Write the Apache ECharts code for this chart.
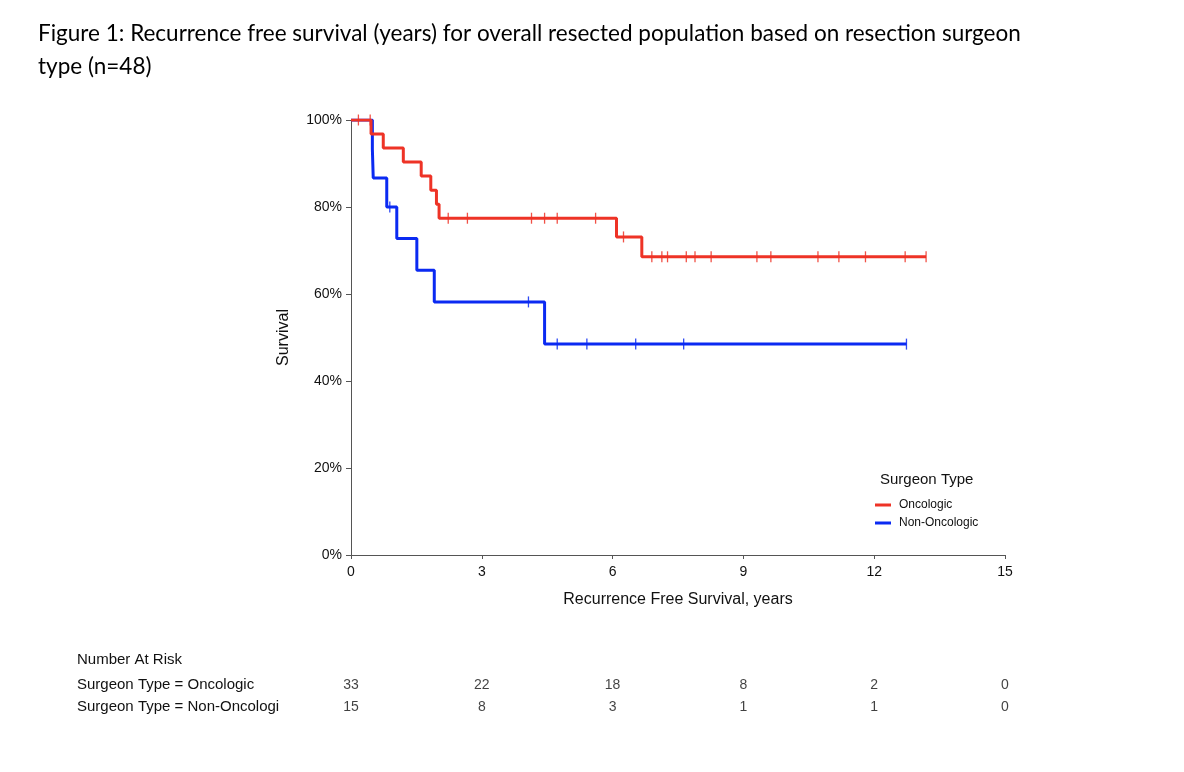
<!DOCTYPE html>
<html><head><meta charset="utf-8">
<script src="https://cdn.jsdelivr.net/npm/echarts@6/dist/echarts.min.js"></script>
<style>html,body{margin:0;padding:0;background:#fff}#c{width:1184px;height:772px}</style>
</head><body><div id="c"></div>
<script>
// ---- data ----
const seriesNames = ['Oncologic', 'Non-Oncologic'];
const oncoCurve = [[0,100],[0.46,96.77],[0.74,93.55],[1.2,90.32],[1.61,87.10],[1.83,83.87],[1.96,80.65],[2.02,77.42],[6.09,73.12],[6.67,68.55],[13.19,68.55]];
const oncoCensor = [0.17,0.44,2.23,2.67,4.14,4.44,4.73,5.61,6.25,6.90,7.13,7.26,7.69,7.89,8.26,9.31,9.63,10.71,11.19,11.80,12.71,13.19];
const nonCurve = [[0,100],[0.49,93.33],[0.51,86.67],[0.82,80.0],[1.05,72.73],[1.51,65.45],[1.91,58.18],[4.44,48.48],[12.74,48.48]];
const nonCensor = [0.89,4.07,4.73,5.41,6.53,7.63,12.74];
const riskTimes = [0,3,6,9,12,15];
const riskOnco = [33,22,18,8,2,0];
const riskNon = [15,8,3,1,1,0];
const riskRows = ['Surgeon Type = Oncologic','Surgeon Type = Non-Oncologi'];
const xTicks = {min:0,max:15,interval:3};
const yTicks = {min:0,max:100,interval:20};

const RED = '#EE3326', BLUE = '#0B2AF2';
function stepValue(curve, t){ let v = curve[0][1]; for (const p of curve){ if (p[0] <= t) v = p[1]; } return v; }
const font = 'Liberation Sans, Arial, sans-serif';

const chart = echarts.init(document.getElementById('c'));
chart.setOption({
  animation:false,
  backgroundColor:'#fff',
  title:[
    {text:'Figure 1: Recurrence free survival (years) for overall resected population based on resection surgeon\ntype (n=48)',
     left:33, top:12, textStyle:{fontFamily:'Lato, sans-serif', fontSize:22.5, fontWeight:'normal', color:'#000', lineHeight:33}},
    {text:'Surgeon Type', left:875, top:467, textStyle:{fontFamily:font, fontSize:15, fontWeight:'normal', color:'#111'}},
    {text:'Number At Risk', left:72, top:647, textStyle:{fontFamily:font, fontSize:15, fontWeight:'normal', color:'#111'}}
  ],
  legend:{data:seriesNames, orient:'vertical', left:870, top:494, itemWidth:16, itemHeight:3, itemGap:6, icon:'rect',
    textStyle:{fontFamily:font, fontSize:12, color:'#111', padding:[0,0,0,3]}},
  grid:[
    {left:351, top:120, width:654, height:435},
    {left:351, top:674, width:654, height:44}
  ],
  xAxis:[
    {type:'value', gridIndex:0, min:xTicks.min, max:xTicks.max, interval:xTicks.interval,
     name:'Recurrence Free Survival, years', nameLocation:'middle', nameGap:37,
     nameTextStyle:{fontFamily:font, fontSize:16, color:'#111'},
     axisLine:{lineStyle:{color:'#555', width:1}}, axisTick:{length:4, lineStyle:{color:'#555'}},
     axisLabel:{fontFamily:font, fontSize:14, color:'#111', margin:10}, splitLine:{show:false}},
    {type:'value', gridIndex:1, min:xTicks.min, max:xTicks.max, interval:xTicks.interval, show:false}
  ],
  yAxis:[
    {type:'value', gridIndex:0, min:yTicks.min, max:yTicks.max, interval:yTicks.interval,
     name:'Survival', nameLocation:'middle', nameGap:59,
     nameTextStyle:{fontFamily:font, fontSize:16, color:'#111'},
     axisLine:{show:true, lineStyle:{color:'#555', width:1}}, axisTick:{show:true, length:5, lineStyle:{color:'#555'}},
     axisLabel:{fontFamily:font, fontSize:14, color:'#111', formatter:'{value}%', margin:9}, splitLine:{show:false}},
    {type:'category', gridIndex:1, data:riskRows, inverse:true,
     axisLine:{show:false}, axisTick:{show:false},
     axisLabel:{fontFamily:font, fontSize:15, color:'#111', align:'left', margin:274}}
  ],
  series:[
    {name:seriesNames[0], type:'line', step:'end', data:oncoCurve, showSymbol:false, color:RED,
     lineStyle:{color:RED, width:3}, z:3},
    {name:seriesNames[1], type:'line', step:'end', data:nonCurve, showSymbol:false, color:BLUE,
     lineStyle:{color:BLUE, width:3}, z:2},
    {name:'oncoCensor', type:'scatter', data:oncoCensor.map(t=>[t, stepValue(oncoCurve,t)]),
     symbol:'rect', symbolSize:[1.3,11], itemStyle:{color:RED, opacity:0.85}, z:4, silent:true},
    {name:'nonCensor', type:'scatter', data:nonCensor.map(t=>[t, stepValue(nonCurve,t)]),
     symbol:'rect', symbolSize:[1.3,11], itemStyle:{color:BLUE, opacity:0.85}, z:4, silent:true},
    {name:'riskOnco', type:'scatter', xAxisIndex:1, yAxisIndex:1,
     data:riskTimes.map((t,i)=>[t, riskRows[0], riskOnco[i]]), symbolSize:2, itemStyle:{color:'rgba(0,0,0,0)'},
     label:{show:true, position:'inside', formatter:p=>String(p.value[2]), fontFamily:font, fontSize:14, color:'#111'}},
    {name:'riskNon', type:'scatter', xAxisIndex:1, yAxisIndex:1,
     data:riskTimes.map((t,i)=>[t, riskRows[1], riskNon[i]]), symbolSize:2, itemStyle:{color:'rgba(0,0,0,0)'},
     label:{show:true, position:'inside', formatter:p=>String(p.value[2]), fontFamily:font, fontSize:14, color:'#111'}}
  ]
});
</script></body></html>
